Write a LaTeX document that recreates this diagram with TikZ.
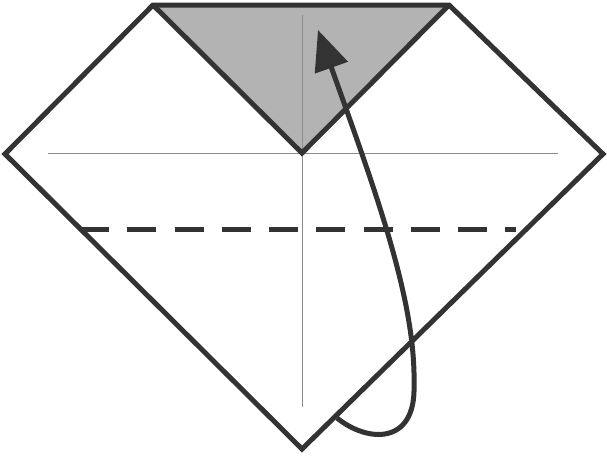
\documentclass[tikz,border=0pt]{standalone}
\usetikzlibrary{arrows.meta}
\definecolor{ink}{HTML}{333333}
\definecolor{flap}{HTML}{B3B3B3}
\definecolor{crease}{HTML}{8C8C8C}
\begin{document}
\begin{tikzpicture}[x=1pt,y=-1pt,
  outline/.style={draw=ink,line width=5pt,line join=miter},
  creaseline/.style={draw=crease,line width=1pt},
  valley/.style={draw=ink,line width=5pt,dash pattern=on 29pt off 18.25pt},
  foldarrow/.style={draw=ink,line width=5pt,-{Triangle[length=40pt,width=34pt]}}]
\useasboundingbox (0,0) rectangle (607,456);
\coordinate (tl) at (153,5);
\coordinate (tr) at (449,5);
\coordinate (r) at (603,154);
\coordinate (b) at (302,449);
\coordinate (l) at (5,154);
\coordinate (c) at (302,153);
% creases
\draw[creaseline] (48,153) -- (558,153);
\draw[creaseline] (302,15) -- (302,407);
% gray flap
\fill[flap] (tl) -- (tr) -- (c) -- cycle;
\draw[creaseline] (302,15) -- (302,150);
% outline
\draw[outline] (tl) -- (tr) -- (r) -- (b) -- (l) -- cycle;
\draw[outline] (tl) -- (c) -- (tr);
% valley fold line
\draw[valley] (80,229) -- (516,229);
% arrow
\coordinate (as) at (337,418);
\coordinate (am) at (414,385);
\coordinate (ae) at (318,30);
\draw[foldarrow] (as) .. controls (368,443) and (416,445) .. (am)
  .. controls (416,300) and (375,190) .. (ae);
\end{tikzpicture}
\end{document}
